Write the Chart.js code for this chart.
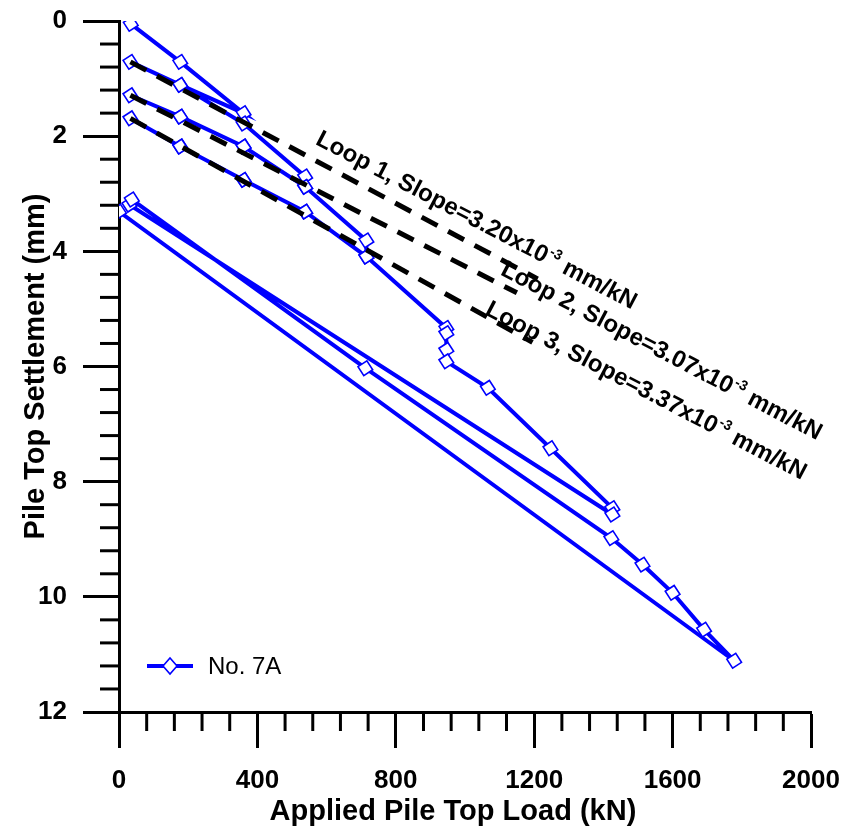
<!DOCTYPE html>
<html>
<head>
<meta charset="utf-8">
<script src="https://cdn.jsdelivr.net/npm/chart.js@4.4.1/dist/chart.umd.min.js"></script>
<style>
  html, body { margin: 0; padding: 0; background: #ffffff; }
  #wrap { width: 854px; height: 829px; position: relative; }
</style>
</head>
<body>
<div id="wrap"><canvas id="c" width="854" height="829"></canvas></div>
<script>
// ---- data ----
const seriesName = 'No. 7A';
const loads = [34, 177, 360, 177, 33, 177, 360, 538, 538, 360, 177, 33, 177, 360, 538, 715, 715, 538, 360, 177, 33, 177, 360, 538, 715, 946, 946, 946, 946, 1066, 1247, 1426, 1426, 30, 37, 712, 1423, 1513, 1600, 1691, 1778, 0];
const settlements = [0.05, 0.71, 1.60, 1.11, 0.71, 1.11, 1.78, 2.70, 2.88, 2.18, 1.66, 1.29, 1.66, 2.18, 2.88, 3.81, 4.09, 3.31, 2.76, 2.18, 1.69, 2.18, 2.76, 3.31, 4.09, 5.33, 5.42, 5.71, 5.91, 6.37, 7.42, 8.46, 8.57, 3.19, 3.10, 6.03, 8.98, 9.44, 9.93, 10.57, 11.11, 3.31];

const loopNames = ['Loop 1', 'Loop 2', 'Loop 3'];
const loopSlopes = ['3.20', '3.07', '3.37'];
const loopStartLoad = [33, 33, 33];
const loopStartSettle = [0.71, 1.29, 1.69];
const loopEndLoad = [1210, 1150, 1195];
const loopEndSettle = [4.48, 4.72, 5.58];

const xTickValues = [0, 400, 800, 1200, 1600, 2000];
const yTickValues = [0, 2, 4, 6, 8, 10, 12];
const xTitle = 'Applied Pile Top Load (kN)';
const yTitle = 'Pile Top Settlement (mm)';

// ---- styles ----
const BLUE = '#0000ff';
const FONT = "'Liberation Sans', Arial, sans-serif";
const MAJOR_LEN = 36, MINOR_LEN = 19, AXIS_W = 3;

const mainPoints = loads.map((v, i) => ({ x: v, y: settlements[i] }));
const loopDatasets = loopNames.map((n, i) => ({
  label: n,
  data: [{ x: loopStartLoad[i], y: loopStartSettle[i] }, { x: loopEndLoad[i], y: loopEndSettle[i] }],
  borderColor: '#000000',
  borderWidth: 5,
  borderDash: [18, 12],
  borderCapStyle: 'butt',
  pointRadius: 0,
  fill: false,
  order: 0
}));

const minorTicks = {
  id: 'minorTicks',
  afterDraw(chart) {
    const { ctx } = chart;
    const xs = chart.scales.x, ys = chart.scales.y;
    ctx.save();
    ctx.strokeStyle = '#000';
    ctx.lineWidth = AXIS_W;
    for (let i = 1; i < 25; i++) {
      if (i % 5 === 0) continue;
      const px = xs.getPixelForValue(i * 80);
      ctx.beginPath();
      ctx.moveTo(px, xs.top);
      ctx.lineTo(px, xs.top + MINOR_LEN);
      ctx.stroke();
    }
    for (let i = 1; i < 30; i++) {
      if (i % 5 === 0) continue;
      const py = ys.getPixelForValue(i * 0.4);
      ctx.beginPath();
      ctx.moveTo(ys.right, py);
      ctx.lineTo(ys.right - MINOR_LEN, py);
      ctx.stroke();
    }
    ctx.restore();
  }
};

const loopLabels = {
  id: 'loopLabels',
  afterDatasetsDraw(chart) {
    const { ctx } = chart;
    const xs = chart.scales.x, ys = chart.scales.y;
    // anchor (load, settlement) for the start of each label's baseline
    const anchors = [[565, 2.13], [1100, 4.40], [1055, 5.09]];
    const angle = 27.6 * Math.PI / 180;
    anchors.forEach((a, i) => {
      const px = xs.getPixelForValue(a[0]);
      const py = ys.getPixelForValue(a[1]);
      ctx.save();
      ctx.translate(px, py);
      ctx.rotate(angle);
      ctx.fillStyle = '#000';
      ctx.textBaseline = 'alphabetic';
      ctx.textAlign = 'left';
      ctx.font = 'bold 24px ' + FONT;
      const t1 = loopNames[i] + ', Slope=' + loopSlopes[i] + 'x10';
      ctx.fillText(t1, 0, 0);
      let w = ctx.measureText(t1).width;
      ctx.font = 'bold 14px ' + FONT;
      ctx.fillText('-3', w + 1, -10);
      w += ctx.measureText('-3').width + 1;
      ctx.font = 'bold 24px ' + FONT;
      ctx.fillText(' mm/kN', w, 0);
      ctx.restore();
    });
  }
};

const legendBox = {
  id: 'legendBox',
  afterDraw(chart) {
    const { ctx } = chart;
    const y = 666;
    ctx.save();
    ctx.strokeStyle = BLUE;
    ctx.lineWidth = 4;
    ctx.beginPath();
    ctx.moveTo(147, y);
    ctx.lineTo(193, y);
    ctx.stroke();
    ctx.beginPath();
    ctx.moveTo(163, y); ctx.lineTo(170, y - 8); ctx.lineTo(177, y); ctx.lineTo(170, y + 8); ctx.closePath();
    ctx.fillStyle = '#fff';
    ctx.fill();
    ctx.lineWidth = 1.6;
    ctx.stroke();
    ctx.fillStyle = '#000';
    ctx.font = '24px ' + FONT;
    ctx.textBaseline = 'middle';
    ctx.fillText(seriesName, 208, y + 1);
    ctx.restore();
  }
};

new Chart(document.getElementById('c'), {
  type: 'line',
  data: {
    datasets: [
      ...loopDatasets,
      {
        label: seriesName,
        data: mainPoints,
        borderColor: BLUE,
        borderWidth: 4,
        pointStyle: 'rectRot',
        pointRotation: 12,
        pointRadius: 7.5,
        pointBorderWidth: 1.6,
        pointBorderColor: BLUE,
        pointBackgroundColor: '#ffffff',
        tension: 0,
        fill: false,
        order: 1
      }
    ]
  },
  options: {
    responsive: false,
    devicePixelRatio: 1,
    animation: false,
    layout: { padding: { top: 21, right: 43, bottom: 0, left: 0 } },
    plugins: { legend: { display: false }, tooltip: { enabled: false } },
    scales: {
      x: {
        type: 'linear',
        min: 0, max: 2000,
        afterBuildTicks: (s) => { s.ticks = xTickValues.map(v => ({ value: v })); },
        afterFit: (s) => { s.height = 117; s.paddingLeft = 0; s.paddingRight = 0; s.paddingTop = 0; s.paddingBottom = 0; },
        border: { display: true, color: '#000', width: AXIS_W },
        grid: { display: true, drawOnChartArea: false, drawTicks: true, tickLength: MAJOR_LEN, tickWidth: AXIS_W, tickColor: '#000', color: '#000' },
        ticks: { color: '#000', font: { family: FONT, size: 26, weight: 'bold', lineHeight: 1.2 }, padding: 17, maxRotation: 0, autoSkip: false, callback: (v) => String(v) },
        title: { display: true, text: xTitle + '   ', color: '#000', font: { family: FONT, size: 29, weight: 'bold', lineHeight: 1.2 }, padding: { top: 0, bottom: 0 } }
      },
      y: {
        type: 'linear',
        reverse: true,
        min: 0, max: 12,
        afterBuildTicks: (s) => { s.ticks = yTickValues.map(v => ({ value: v })); },
        afterFit: (s) => { s.width = 119; s.paddingLeft = 0; s.paddingRight = 0; s.paddingTop = 0; s.paddingBottom = 0; },
        border: { display: true, color: '#000', width: AXIS_W },
        grid: { display: true, drawOnChartArea: false, drawTicks: true, tickLength: MAJOR_LEN, tickWidth: AXIS_W, tickColor: '#000', color: '#000' },
        ticks: { color: '#000', font: { family: FONT, size: 26, weight: 'bold', lineHeight: 1.2 }, padding: 16, autoSkip: false, callback: (v) => String(v) },
        title: { display: true, text: yTitle, color: '#000', font: { family: FONT, size: 29, weight: 'bold', lineHeight: 1.2 }, padding: { top: 19, bottom: 0 } }
      }
    }
  },
  plugins: [minorTicks, loopLabels, legendBox]
});
</script>
</body>
</html>
